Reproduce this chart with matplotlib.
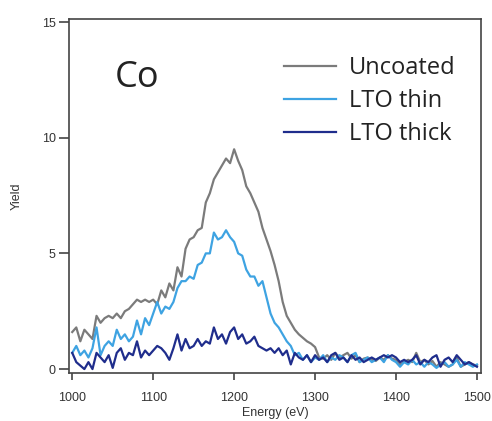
import matplotlib
matplotlib.use("Agg")
import matplotlib.pyplot as plt
import numpy as np

energy = list(range(1000, 1501, 5))

uncoated = [
    1.6, 1.8, 1.2, 1.7, 1.5, 1.3, 2.3, 2.0, 2.2, 2.3,
    2.2, 2.4, 2.2, 2.5, 2.6, 2.8, 3.0, 2.9, 3.0, 2.9,
    3.0, 2.8, 3.4, 3.1, 3.7, 3.4, 4.4, 4.0, 5.2, 5.6,
    5.7, 6.0, 6.1, 7.2, 7.6, 8.2, 8.5, 8.8, 9.1, 8.9,
    9.5, 9.0, 8.6, 7.9, 7.6, 7.2, 6.8, 6.1, 5.6, 5.1,
    4.5, 3.8, 2.9, 2.3, 2.0, 1.7, 1.5, 1.35, 1.2, 1.1,
    0.95, 0.5, 0.45, 0.6, 0.4, 0.7, 0.5, 0.6, 0.7, 0.45,
    0.6, 0.3, 0.45, 0.5, 0.4, 0.35, 0.5, 0.4, 0.6, 0.45,
    0.4, 0.2, 0.3, 0.4, 0.3, 0.7, 0.3, 0.4, 0.2, 0.35,
    0.1, 0.3, 0.2, 0.1, 0.2, 0.5, 0.1, 0.2, 0.3, 0.2,
    0.15,
]

lto_thin = [
    0.7, 1.0, 0.6, 0.8, 0.5, 0.9, 1.8, 0.6, 1.0, 1.2,
    1.0, 1.7, 1.3, 1.5, 1.2, 1.4, 2.1, 1.5, 2.2, 1.9,
    2.4, 2.9, 2.4, 2.7, 2.6, 2.9, 3.5, 3.8, 3.8, 4.0,
    3.9, 4.5, 4.6, 5.0, 5.0, 5.9, 5.6, 5.7, 6.0, 5.7,
    5.5, 5.0, 4.9, 4.3, 4.0, 4.0, 3.6, 3.8, 3.1, 2.4,
    2.0, 1.8, 1.5, 1.2, 1.0, 0.6, 0.7, 0.4, 0.6, 0.3,
    0.5, 0.4, 0.6, 0.3, 0.5, 0.4, 0.6, 0.5, 0.3, 0.6,
    0.7, 0.3, 0.4, 0.5, 0.3, 0.4, 0.5, 0.3, 0.6, 0.4,
    0.3, 0.1, 0.3, 0.2, 0.4, 0.2, 0.3, 0.1, 0.3, 0.2,
    0.05, 0.2, 0.3, 0.1, 0.2, 0.4, 0.1, 0.3, 0.2, 0.1,
    0.2,
]

lto_thick = [
    0.7, 0.3, 0.15, 0.0, 0.3, 0.0, 0.7, 0.5, 0.3, 0.6,
    0.05, 0.7, 0.9, 0.4, 0.7, 0.6, 1.2, 0.5, 0.8, 0.6,
    0.8, 1.0, 0.9, 0.7, 0.4, 0.9, 1.5, 0.8, 1.3, 0.9,
    1.0, 1.3, 1.0, 1.2, 1.1, 1.8, 1.3, 1.5, 1.1, 1.6,
    1.8, 1.3, 1.5, 1.1, 1.2, 1.4, 1.0, 0.9, 0.8, 0.9,
    0.7, 0.9, 0.6, 0.8, 0.2, 0.7, 0.5, 0.4, 0.6, 0.3,
    0.6, 0.4, 0.5, 0.3, 0.6, 0.7, 0.4, 0.5, 0.3, 0.6,
    0.4, 0.5, 0.3, 0.4, 0.5, 0.4, 0.5, 0.6, 0.5, 0.6,
    0.5, 0.3, 0.4, 0.3, 0.4, 0.6, 0.2, 0.4, 0.3, 0.5,
    0.6, 0.1, 0.4, 0.5, 0.3, 0.6, 0.4, 0.2, 0.3, 0.2,
    0.1,
]

series_labels = ["Uncoated", "LTO thin", "LTO thick"]
series_colors = ["#7b7b7b", "#3ea3e2", "#1f2d8c"]
x_ticks = [1000, 1100, 1200, 1300, 1400, 1500]
y_ticks = [0, 5, 10, 15]

fig = plt.figure(figsize=(4.92, 4.21), dpi=100)
ax = fig.add_axes([69 / 492, 1 - 373 / 421, (481 - 69) / 492, (373 - 19) / 421])

for vals, lab, col in zip([uncoated, lto_thin, lto_thick], series_labels, series_colors):
    ax.plot(energy, vals, color=col, lw=1.6, label=lab)

ax.set_xlim(996, 1505)
ax.set_ylim(-0.17, 15.13)
ax.set_xticks(x_ticks)
ax.set_yticks(y_ticks)

tick_font = dict(family="Liberation Sans", size=9)
ax.set_xticklabels([str(t) for t in x_ticks], fontdict=tick_font, color="#333333")
ax.set_yticklabels([str(t) for t in y_ticks], fontdict=tick_font, color="#333333")
ax.tick_params(axis="y", direction="out", length=7.5, width=1.2, color="#444444", pad=2)
ax.tick_params(axis="x", direction="out", length=5, width=1.2, color="#444444", pad=9)
for s in ax.spines.values():
    s.set_color("#444444")
    s.set_linewidth(1.2)

ax.set_xlabel("Energy (eV)", family="Liberation Sans", size=9, color="#333333", labelpad=2)
ax.set_ylabel("Yield", family="Liberation Sans", size=9, color="#333333", labelpad=14)

leg = ax.legend(loc="upper left", bbox_to_anchor=(284 / 492, 1 - 56 / 421),
                bbox_transform=fig.transFigure, frameon=False,
                prop=dict(family="Open Sans", size=17), handlelength=2.2,
                handletextpad=0.55, labelspacing=0.38, borderaxespad=0, borderpad=0)
for t in leg.get_texts():
    t.set_color("#222222")

fig.text(137 / 492, 1 - 78 / 421, "Co", family="Open Sans", size=26, color="#222222",
         ha="center", va="center")

fig.savefig("out.png", dpi=100)
